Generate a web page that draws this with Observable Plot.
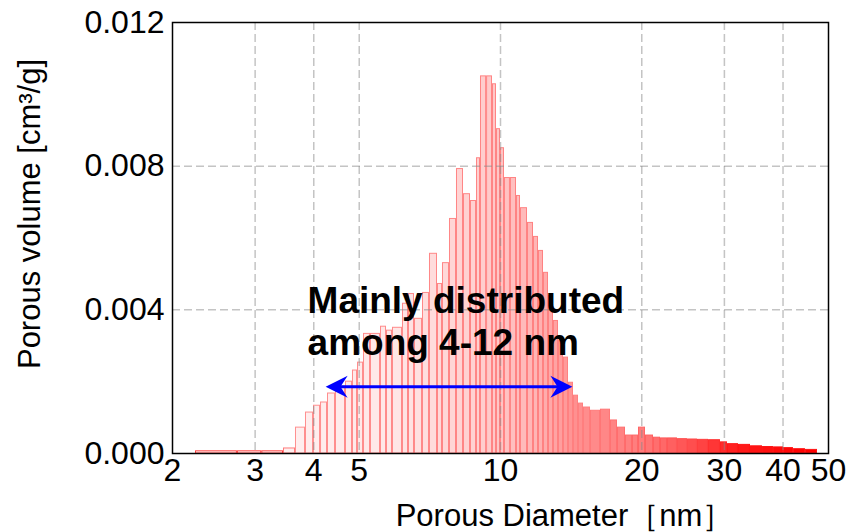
<!DOCTYPE html>
<html><head><meta charset="utf-8">
<script src="https://cdn.jsdelivr.net/npm/d3@7"></script>
<script src="https://cdn.jsdelivr.net/npm/@observablehq/plot@0.6"></script>
<style>
html,body{margin:0;padding:0;background:#fff;}
#chart{width:852px;height:532px;}
</style></head><body><div id="chart"></div>
<script>
// ---- data ----
const binEdges = [2.239, 2.75, 3.10, 3.448, 3.657, 3.841, 3.995, 4.135, 4.279, 4.450, 4.674, 4.837, 4.958, 5.106, 5.284, 5.550, 5.716, 5.886, 6.182, 6.367, 6.557, 6.820, 7.058, 7.341, 7.523, 7.786, 8.058, 8.340, 8.631, 8.889, 9.065, 9.34, 9.615, 9.806, 10.000, 10.198, 10.50, 10.817, 11.031, 11.417, 11.758, 12.050, 12.349, 12.656, 12.970, 13.292, 13.622, 13.961, 14.307, 14.663, 15.027, 15.552, 16.334, 17.155, 17.755, 18.466, 19.111, 19.682, 20.370, 21.186, 21.926, 22.692, 23.833, 25.032, 26.290, 27.748, 29.431, 30.459, 32.149, 34.099, 36.167, 38.173, 40.092, 42.108, 44.662, 47.371];
const poreVolume = [0.00006, 0.00006, 0.00006, 0.00014, 0.00072, 0.00114, 0.00133, 0.00142, 0.00167, 0.00186, 0.00200, 0.00231, 0.00253, 0.00333, 0.00333, 0.00353, 0.00342, 0.00350, 0.00417, 0.00444, 0.00375, 0.00447, 0.00556, 0.00472, 0.00530, 0.00653, 0.00792, 0.00722, 0.00703, 0.00822, 0.01050, 0.01050, 0.01028, 0.00903, 0.00850, 0.00767, 0.00767, 0.00717, 0.00683, 0.00642, 0.00603, 0.00564, 0.00503, 0.00439, 0.00369, 0.00314, 0.00267, 0.00197, 0.00161, 0.00139, 0.00128, 0.00119, 0.00122, 0.00092, 0.00072, 0.00050, 0.00050, 0.00072, 0.00050, 0.00044, 0.00042, 0.00042, 0.00040, 0.00039, 0.00038, 0.00037, 0.00031, 0.00026, 0.00024, 0.00020, 0.00018, 0.00017, 0.00015, 0.00012, 0.00010];
const xTicks = [2, 3, 4, 5, 10, 20, 30, 40, 50];
const yTicks = [0, 0.004, 0.008, 0.012];
const gridX = [3, 4, 5, 10, 20, 30, 40];
const gridY = [0.004, 0.008];
const xTitle = "Porous Diameter\uFF3Bnm\uFF3D";
const yTitle = "Porous volume [cm\u00B3/g]";
const annotationLines = ["Mainly distributed", "among 4-12 nm"];
const arrowRange = [4.24, 14.23];   // nm, ends of the double arrow
const arrowLevel = 0.00186;         // cm3/g

// ---- annotation placement & styles ----
const annotX = 3.88;
const annotY = [0.00425, 0.00306];
const fillScale = d3.scaleLog()
  .domain([3, 6, 9, 12, 14.5, 20, 26, 32, 45])
  .range(["#fff2f2", "#ffe6e6", "#ffcfcf", "#ffb4b4", "#ff9090", "#ff7c7c", "#ff4c4c", "#ff1c1c", "#ff0000"])
  .interpolate(d3.interpolateRgb).clamp(true);
const strokeScale = d3.scaleLog()
  .domain([3, 3.4, 3.6, 12, 15, 25, 32])
  .range(["#ff3c3c", "#ff3c3c", "#ff9090", "#ff8282", "#ff8080", "#ff5050", "#ff1414"])
  .interpolate(d3.interpolateRgb).clamp(true);

const bars = poreVolume.map((v, i) => ({d0: binEdges[i], d1: binEdges[i + 1], v}));
const mid = d => Math.sqrt(d.d0 * d.d1);

const headRight = {draw(ctx, size) {
  const r = Math.sqrt(size / Math.PI);
  ctx.moveTo(0, 0); ctx.lineTo(-2 * r, -r); ctx.lineTo(-1.35 * r, 0); ctx.lineTo(-2 * r, r); ctx.closePath();
}};
const headLeft = {draw(ctx, size) {
  const r = Math.sqrt(size / Math.PI);
  ctx.moveTo(0, 0); ctx.lineTo(2 * r, -r); ctx.lineTo(1.35 * r, 0); ctx.lineTo(2 * r, r); ctx.closePath();
}};

const font = '"Liberation Sans", Arial, Helvetica, sans-serif';

const chart = Plot.plot({
  width: 852, height: 532,
  marginLeft: 172, marginRight: 24, marginTop: 22, marginBottom: 79,
  style: {fontFamily: font, fontSize: "32px", background: "white", color: "black", overflow: "visible"},
  x: {type: "log", domain: [2, 50], ticks: xTicks, tickSize: 0, tickPadding: 5, tickFormat: d => String(d), label: null},
  y: {domain: [0, 0.012], ticks: yTicks, tickSize: 0, tickPadding: 8, tickFormat: d3.format(".3f"), label: null},
  marks: [
    Plot.rectY(bars, {
      x1: "d0", x2: "d1", y: "v",
      fill: d => fillScale(mid(d)), stroke: d => strokeScale(mid(d)),
      strokeWidth: 1, insetLeft: 0.5, insetRight: 0.5
    }),
    Plot.ruleX(gridX, {stroke: "#8a8a8a", strokeOpacity: 0.5, strokeWidth: 1.5, strokeDasharray: "8,4"}),
    Plot.ruleY(gridY, {stroke: "#8a8a8a", strokeOpacity: 0.5, strokeWidth: 1.5, strokeDasharray: "8,4"}),
    Plot.frame({stroke: "black", strokeWidth: 1.5}),
    Plot.text(annotationLines, {
      x: () => annotX, y: (d, i) => annotY[i], text: d => d,
      textAnchor: "start", lineAnchor: "middle", fontWeight: "bold", fontSize: 37, fill: "black"
    }),
    Plot.ruleY([arrowLevel], {x1: arrowRange[0], x2: arrowRange[1], stroke: "blue", strokeWidth: 3, insetLeft: 12, insetRight: 12}),
    Plot.dot([arrowRange[1]], {x: d => d, y: () => arrowLevel, symbol: headRight, r: 11, fill: "blue"}),
    Plot.dot([arrowRange[0]], {x: d => d, y: () => arrowLevel, symbol: headLeft, r: 11, fill: "blue"}),
    Plot.text([xTitle], {frameAnchor: "bottom", textAnchor: "middle", dx: 64, dy: 63, lineAnchor: "middle", fontSize: 31, fill: "black"}),
    Plot.text([yTitle], {frameAnchor: "left", textAnchor: "middle", dx: -142, dy: -24, rotate: -90, lineAnchor: "middle", fontSize: 31, fill: "black"})
  ]
});
document.getElementById("chart").appendChild(chart);
</script>
</body></html>
